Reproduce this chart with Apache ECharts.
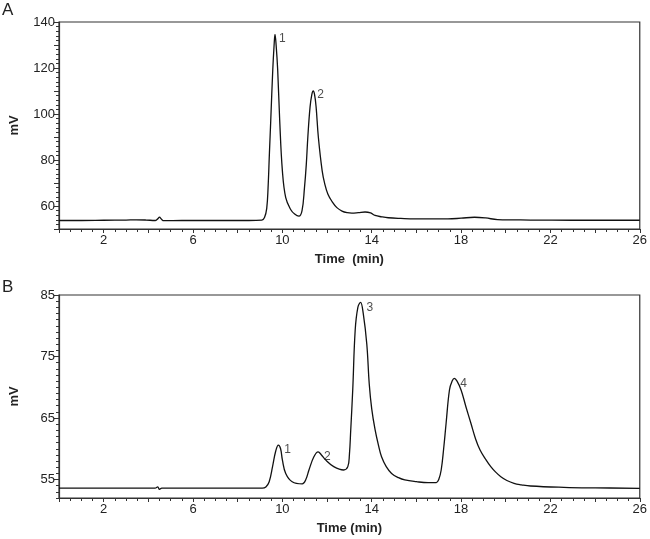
<!DOCTYPE html>
<html>
<head>
<meta charset="utf-8">
<script src="https://cdn.jsdelivr.net/npm/echarts@6/dist/echarts.min.js"></script>
<style>html,body{margin:0;padding:0;background:#fff}#c{width:650px;height:539px}</style>
</head>
<body>
<div id="c"></div>
<script>
// Panel A chromatogram
var timeA = [0, 1.0, 2.0, 3.0, 3.45, 3.9, 4.3, 4.42, 4.5, 4.58, 4.7, 5.5, 7.0, 8.5, 9.08, 9.2, 9.3, 9.36, 9.42, 9.48, 9.57, 9.63, 9.67, 9.72, 9.79, 9.88, 10.0, 10.15, 10.37, 10.55, 10.74, 10.88, 10.99, 11.07, 11.14, 11.24, 11.32, 11.38, 11.44, 11.51, 11.61, 11.78, 11.9, 12.04, 12.22, 12.44, 12.67, 12.9, 13.11, 13.4, 13.7, 13.95, 14.15, 14.45, 14.74, 15.3, 15.93, 16.8, 17.41, 18.0, 18.6, 19.1, 19.63, 21.1, 23, 26];
var mvA = [53.7, 53.7, 53.8, 53.9, 54.0, 53.9, 53.7, 54.4, 55.2, 54.3, 53.6, 53.7, 53.7, 53.7, 53.9, 55, 59, 68, 83, 97.3, 119.2, 130, 134.6, 130, 119.2, 97.3, 75.4, 63.6, 58.5, 56.5, 55.6, 58, 68, 78, 90, 103.1, 108.5, 110, 108.5, 103.1, 90, 75.4, 69.5, 65.1, 62, 59.3, 57.8, 57.1, 56.9, 57.1, 57.4, 57.0, 55.9, 55.3, 54.9, 54.6, 54.4, 54.4, 54.4, 54.7, 55.1, 54.8, 54.1, 53.9, 53.8, 53.8];
var peakTimeA = [9.67, 11.38];
var peakMvA = [134.6, 110];
var peakNameA = ['1', '2'];

// Panel B chromatogram
var timeB = [0, 2, 4.3, 4.42, 4.5, 4.6, 5.5, 8, 9.1, 9.26, 9.41, 9.56, 9.7, 9.82, 9.92, 10.0, 10.15, 10.44, 10.89, 11.05, 11.19, 11.41, 11.6, 11.75, 11.93, 12.3, 12.74, 12.93, 13.0, 13.06, 13.15, 13.26, 13.38, 13.5, 13.62, 13.78, 13.89, 14.0, 14.15, 14.3, 14.44, 14.65, 14.89, 15.2, 15.48, 16.0, 16.52, 16.89, 17.0, 17.11, 17.22, 17.33, 17.48, 17.6, 17.7, 17.82, 18.0, 18.22, 18.44, 18.65, 18.85, 19.1, 19.33, 19.55, 19.78, 20.05, 20.37, 20.7, 21.11, 22.6, 24, 26];
var mvB = [53.6, 53.6, 53.6, 53.8, 53.4, 53.6, 53.6, 53.6, 53.6, 53.8, 54.65, 57.1, 59.6, 60.6, 60.0, 58.2, 56.0, 54.65, 54.3, 55.0, 56.55, 58.7, 59.5, 59.0, 58.2, 57.1, 56.55, 57.1, 59.0, 63.0, 69.6, 79.3, 83.0, 83.8, 82.0, 77.0, 70.5, 66.5, 63.1, 60.6, 58.7, 57.1, 56.0, 55.3, 54.93, 54.65, 54.49, 54.5, 55.0, 56.55, 60.0, 64.15, 69.56, 71.0, 71.46, 71.0, 69.56, 66.8, 64.15, 61.6, 59.8, 58.3, 57.1, 56.2, 55.46, 54.85, 54.39, 54.15, 53.95, 53.74, 53.65, 53.58];
var peakTimeB = [9.82, 11.6, 13.5, 17.7];
var peakMvB = [60.6, 59.5, 83.8, 71.46];
var peakNameB = ['1', '2', '3', '4'];

// Axis tick labels
var xTickLabels = [2, 6, 10, 14, 18, 22, 26];
var yTickLabelsA = [60, 80, 100, 120, 140];
var yTickLabelsB = [55, 65, 75, 85];

function zip(a, b) { return a.map(function (t, i) { return [t, b[i]]; }); }
function peaks(t, v, n) { return t.map(function (x, i) { return { value: [x, v[i]], name: n[i] }; }); }

var FONT = 'Liberation Sans, Arial, sans-serif';
var AX = '#333';
var TXT = '#222';

function xAxisDef(gi, name) {
  return {
    type: 'value', gridIndex: gi, min: 0, max: 26, interval: 2,
    name: name, nameLocation: 'middle', nameGap: 24,
    nameTextStyle: { fontFamily: FONT, fontSize: 13, fontWeight: 'bold', color: TXT },
    axisLine: { lineStyle: { color: AX, width: 1.2 } },
    axisTick: { length: 4, lineStyle: { color: AX } },
    minorTick: { show: true, splitNumber: 4, length: 3, lineStyle: { color: AX } },
    splitLine: { show: false },
    axisLabel: {
      fontFamily: FONT, fontSize: 13, color: TXT, margin: 5,
      formatter: function (v) { return xTickLabels.indexOf(v) >= 0 ? String(v) : ''; }
    }
  };
}

var option = {
  animation: false,
  backgroundColor: '#fff',
  graphic: [
    { type: 'text', left: 2, top: 2, style: { text: 'A', font: '17px ' + FONT, fill: TXT } },
    { type: 'text', left: 2, top: 279, style: { text: 'B', font: '17px ' + FONT, fill: TXT } }
  ],
  grid: [
    { left: 56, right: 10, top: 22, height: 207, show: true, borderColor: AX, borderWidth: 1.2 },
    { left: 56, right: 10, top: 295, height: 203, show: true, borderColor: AX, borderWidth: 1.2 }
  ],
  xAxis: [
    xAxisDef(0, 'Time  (min)'),
    xAxisDef(1, 'Time (min)')
  ],
  yAxis: [
    {
      type: 'value', gridIndex: 0, min: 50, max: 140, interval: 10,
      name: 'mV', nameLocation: 'middle', nameGap: 38, nameRotate: 90,
      nameTextStyle: { fontFamily: FONT, fontSize: 13, fontWeight: 'bold', color: TXT },
      axisLine: { show: true, lineStyle: { color: AX, width: 1.2 } },
      axisTick: { show: true, length: 5, lineStyle: { color: AX } },
      minorTick: { show: true, splitNumber: 5, length: 3, lineStyle: { color: AX } },
      splitLine: { show: false },
      axisLabel: {
        fontFamily: FONT, fontSize: 13, color: TXT, margin: 4,
        formatter: function (v) { return yTickLabelsA.indexOf(v) >= 0 ? String(v) : ''; }
      }
    },
    {
      type: 'value', gridIndex: 1, min: 52, max: 85, position: 'left',
      name: 'mV', nameLocation: 'middle', nameGap: 38, nameRotate: 90,
      nameTextStyle: { fontFamily: FONT, fontSize: 13, fontWeight: 'bold', color: TXT },
      axisLine: { show: true, lineStyle: { color: AX, width: 1.2 } },
      axisTick: { show: true, length: 5, customValues: yTickLabelsB, lineStyle: { color: AX } },
      splitLine: { show: false },
      axisLabel: { fontFamily: FONT, fontSize: 13, color: TXT, margin: 4, customValues: yTickLabelsB }
    },
    {
      type: 'value', gridIndex: 1, min: 52, max: 85, interval: 1, position: 'left',
      axisLine: { show: false },
      axisTick: { show: true, length: 3, lineStyle: { color: AX } },
      splitLine: { show: false },
      axisLabel: { show: false }
    }
  ],
  series: [
    {
      type: 'line', xAxisIndex: 0, yAxisIndex: 0, data: zip(timeA, mvA),
      showSymbol: false, smooth: 0.4, lineStyle: { color: '#111', width: 1.3 }
    },
    {
      type: 'scatter', xAxisIndex: 0, yAxisIndex: 0, data: peaks(peakTimeA, peakMvA, peakNameA),
      symbolSize: 0,
      label: { show: true, position: 'right', offset: [-1, 4], formatter: '{b}', fontFamily: FONT, fontSize: 12, color: TXT }
    },
    {
      type: 'line', xAxisIndex: 1, yAxisIndex: 1, data: zip(timeB, mvB),
      showSymbol: false, smooth: 0.4, lineStyle: { color: '#111', width: 1.3 }
    },
    {
      type: 'scatter', xAxisIndex: 1, yAxisIndex: 1, data: peaks(peakTimeB, peakMvB, peakNameB),
      symbolSize: 0,
      label: { show: true, position: 'right', offset: [1, 5], formatter: '{b}', fontFamily: FONT, fontSize: 12, color: TXT }
    }
  ]
};

var chart = echarts.init(document.getElementById('c'), null, { renderer: 'canvas' });
chart.setOption(option);
</script>
</body>
</html>
